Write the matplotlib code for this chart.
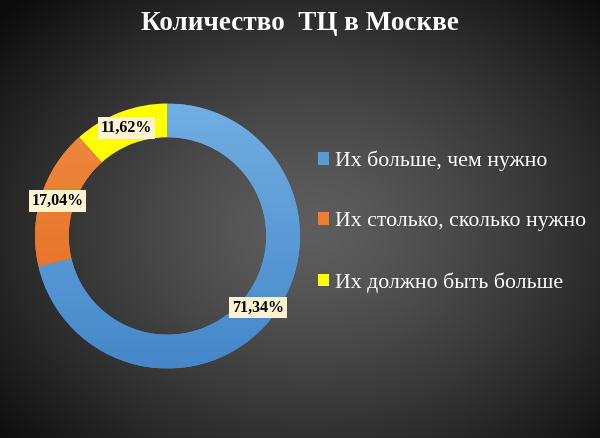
import numpy as np
import matplotlib
matplotlib.use('Agg')
from matplotlib import pyplot as plt
from matplotlib.patches import Patch

labels = ['Их больше, чем нужно', 'Их столько, сколько нужно', 'Их должно быть больше']
values = [71.34, 17.04, 11.62]
colors = ['#5b9bd5', '#ed7d31', '#ffff00']
title = 'Количество  ТЦ в Москве'

plt.rcParams['font.family'] = ['Liberation Serif', 'DejaVu Serif']

fig = plt.figure(figsize=(6, 4.38), dpi=100)

# radial gradient background
bg = fig.add_axes([0, 0, 1, 1])
yy, xx = np.mgrid[0:438, 0:600]
r = np.sqrt(((xx - 310) / 420.0) ** 2 + ((yy - 230) / 330.0) ** 2)
shade = np.clip(0.37 - 0.33 * r ** 1.3, 0.05, 1)
bg.imshow(np.dstack([shade] * 3), aspect='auto', extent=[0, 1, 0, 1])
bg.set_axis_off()

ax = fig.add_axes([35 / 600, 69.5 / 438, 265 / 600, 265 / 438])
wedges, _, autotexts = ax.pie(values, colors=colors, startangle=90, counterclock=False,
                              radius=1, pctdistance=0.87,
                              autopct=lambda p: ('%.2f%%' % p).replace('.', ','),
                              wedgeprops=dict(width=0.255, linewidth=0))
ax.set_xlim(-1, 1)
ax.set_ylim(-1, 1)

# soft vertical gradient on blue and orange wedges
grads = {0: ('#72aee2', '#4587c9'), 1: ('#f08a44', '#e06a1c')}
for i, (top, bot) in grads.items():
    c1 = np.array(matplotlib.colors.to_rgb(top))
    c2 = np.array(matplotlib.colors.to_rgb(bot))
    t = np.linspace(0, 1, 256)[:, None]
    img = (c1 * (1 - t) + c2 * t)[:, None, :].repeat(2, axis=1)
    im = ax.imshow(img, extent=[-1, 1, -1, 1], aspect='auto', zorder=wedges[i].get_zorder() + 0.1)
    im.set_clip_path(wedges[i])
ax.set_xlim(-1, 1)
ax.set_ylim(-1, 1)

for t in autotexts:
    t.set_fontsize(11.5)
    t.set_fontweight('bold')
    t.set_color('black')
    t.set_zorder(10)
    t.set_bbox(dict(boxstyle='square,pad=0.18', facecolor='#fdf3d0', edgecolor='none'))

handles = [Patch(facecolor=c, edgecolor='none') for c in colors]
leg = fig.legend(handles, labels, loc='upper left', bbox_to_anchor=(298 / 600, 1 - 131 / 438),
                 frameon=False, fontsize=15.7, labelspacing=1.88, handlelength=0.5,
                 handleheight=0.5, handletextpad=0.3, labelcolor='white')

fig.text(0.5, 1 - 23 / 438, title, ha='center', va='center', color='white',
         fontsize=19.5, fontweight='bold')

fig.savefig('out.png', dpi=100)
